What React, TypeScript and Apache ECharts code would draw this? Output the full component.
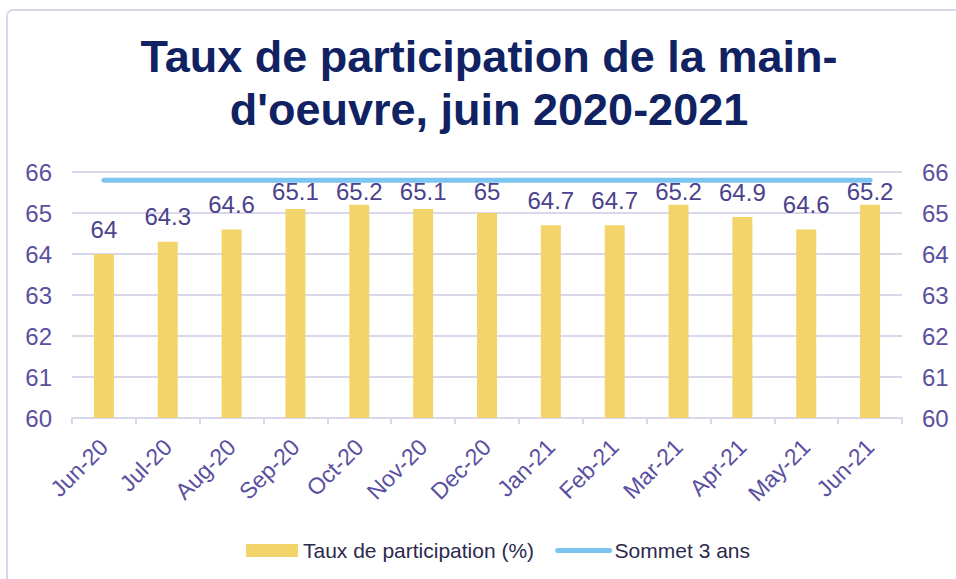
import React, { useEffect, useRef } from "react";
import * as echarts from "echarts";

const categories = ["Jun-20", "Jul-20", "Aug-20", "Sep-20", "Oct-20", "Nov-20", "Dec-20", "Jan-21", "Feb-21", "Mar-21", "Apr-21", "May-21", "Jun-21"];
const participation = [64, 64.3, 64.6, 65.1, 65.2, 65.1, 65, 64.7, 64.7, 65.2, 64.9, 64.6, 65.2];
const peak3y = [65.8, 65.8, 65.8, 65.8, 65.8, 65.8, 65.8, 65.8, 65.8, 65.8, 65.8, 65.8, 65.8];
const yMin = 60;
const yMax = 66;
const yInterval = 1;
const titleText = "Taux de participation de la main-\nd'oeuvre, juin 2020-2021";
const barName = "Taux de participation (%)";
const lineName = "Sommet 3 ans";

const FONT = "'Liberation Sans', Arial, sans-serif";
const AXIS_COLOR = "#5A50A0";
const GRID_COLOR = "#DAD7EA";
const LINE_COLOR = "#7CC5F0";

export default function App() {
  const ref = useRef<HTMLDivElement>(null);
  useEffect(() => {
    document.body.style.margin = "0";
    const chart = echarts.init(ref.current!, undefined, { renderer: "svg" });
    const yAxisBase = {
      type: "value" as const,
      min: yMin,
      max: yMax,
      interval: yInterval,
      axisLine: { show: false },
      axisTick: { show: false },
      axisLabel: { color: AXIS_COLOR, fontSize: 24, fontFamily: FONT, margin: 20 },
    };
    chart.setOption({
      animation: false,
      textStyle: { fontFamily: FONT },
      graphic: [
        {
          type: "rect",
          shape: { x: 7, y: 10, width: 1000, height: 650, r: 6 },
          style: { fill: "none", stroke: GRID_COLOR, lineWidth: 2 },
          z: -10,
        },
      ],
      title: {
        text: titleText,
        left: 484,
        textAlign: "center",
        top: 25,
        textStyle: {
          color: "#102262",
          fontSize: 45,
          fontWeight: "bold",
          fontFamily: FONT,
          lineHeight: 53,
        },
      },
      grid: { left: 72, right: 54, top: 172, bottom: 161, containLabel: false },
      legend: {
        left: 241,
        top: 535,
        itemWidth: 52,
        itemHeight: 13,
        itemGap: 21,
        textStyle: { color: "#2C2A4C", fontSize: 21, fontFamily: FONT },
        data: [
          { name: barName, icon: "rect" },
          {
            name: lineName,
            itemStyle: { opacity: 0 },
            lineStyle: { width: 5, color: LINE_COLOR, cap: "round" },
          },
        ],
      },
      xAxis: {
        type: "category",
        data: categories,
        axisLine: { lineStyle: { color: GRID_COLOR, width: 2 } },
        axisTick: { show: true, length: 6, lineStyle: { color: GRID_COLOR, width: 2 } },
        axisLabel: { color: AXIS_COLOR, fontSize: 23, fontFamily: FONT, rotate: 45, margin: 25, interval: 0 },
      },
      yAxis: [
        { ...yAxisBase, position: "left", splitLine: { lineStyle: { color: GRID_COLOR, width: 2 } } },
        { ...yAxisBase, position: "right", splitLine: { show: false } },
      ],
      series: [
        {
          name: barName,
          type: "bar",
          data: participation,
          barWidth: 20,
          itemStyle: { color: "#F2D46B" },
          label: {
            show: true,
            position: "top",
            distance: 13,
            color: "#4A438C",
            fontSize: 24,
            fontFamily: FONT,
          },
          labelLayout: (params: any) => {
            const minTop = 179;
            const r = params.labelRect;
            if (r && r.y < minTop) {
              return { dy: minTop - r.y };
            }
            return {};
          },
        },
        {
          name: lineName,
          type: "line",
          yAxisIndex: 1,
          data: peak3y,
          symbol: "none",
          lineStyle: { color: LINE_COLOR, width: 5, cap: "round" },
          itemStyle: { color: LINE_COLOR },
          z: 3,
        },
      ],
    });
    return () => chart.dispose();
  }, []);
  return <div ref={ref} style={{ width: 956, height: 579 }} />;
}
